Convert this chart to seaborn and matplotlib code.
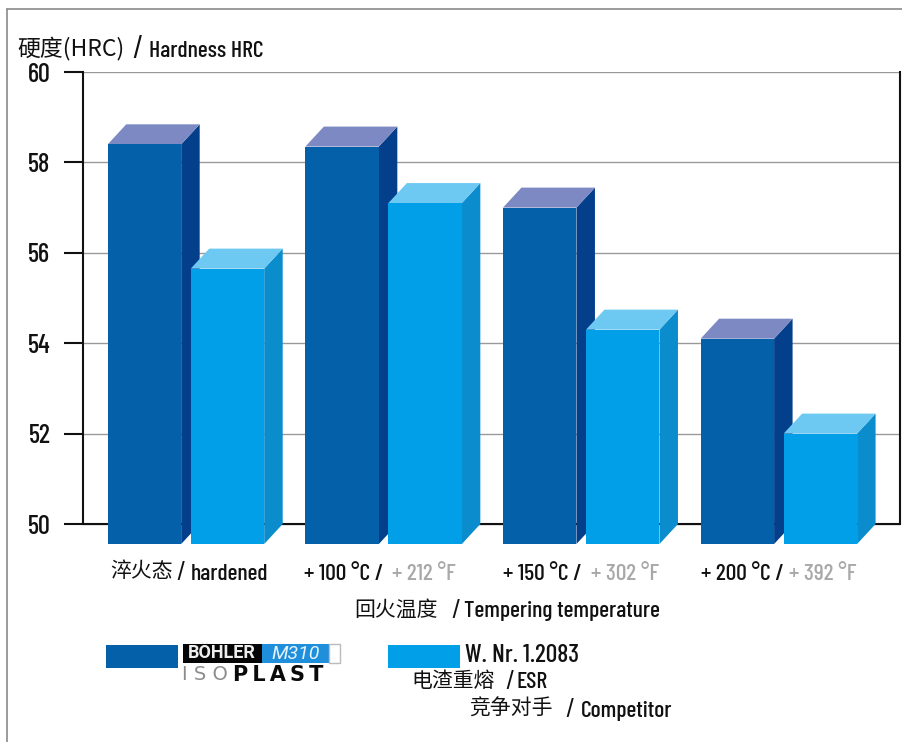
# Hardness of M310 ISOPLAST vs competitor after tempering
import pandas as pd
import matplotlib
matplotlib.use("Agg")
import matplotlib.pyplot as plt
import seaborn as sns
from matplotlib.lines import Line2D
from matplotlib.patches import Polygon, Rectangle

# Data
conditions = ["hardened", "100", "150", "200"]
steels = ["M310", "1.2083"]
m310_hrc = [58.4, 58.35, 57.0, 54.1]
competitor_hrc = [55.65, 57.1, 54.3, 52.0]
y_ticks = [50, 52, 54, 56, 58, 60]
celsius_labels = ["+ 100 °C /", "+ 150 °C /", "+ 200 °C /"]
fahrenheit_labels = ["+ 212 °F", "+ 302 °F", "+ 392 °F"]

df = pd.DataFrame({
    "condition": conditions * 2,
    "steel": [steels[0]] * 4 + [steels[1]] * 4,
    "hrc": m310_hrc + competitor_hrc,
})

# Colours
DARK = "#0461a9"
DARK_SIDE = "#043f8b"
DARK_TOP = "#7c89c2"
LIGHT = "#009fe8"
LIGHT_SIDE = "#0a8ccd"
LIGHT_TOP = "#6dc8f2"
GREY_TXT = "#a8a8a8"

sns.set_style("white")
NARROW = ["Barlow Condensed", "Liberation Sans Narrow", "Noto Sans CJK SC", "DejaVu Sans"]
CJK = ["Noto Sans CJK SC", "DejaVu Sans"]
WIDE = ["Syncopate", "DejaVu Sans"]
plt.rcParams["font.family"] = NARROW
plt.rcParams["font.weight"] = 500

W, H = 903, 742
fig = plt.figure(figsize=(W / 100, H / 100), dpi=100)


def fx(x):
    return x / W


def fy(y):
    return 1 - y / H


def label(x, y, s, size=17, ha="left", color="#111111", **kw):
    fig.text(fx(x), fy(y), s, fontsize=size, ha=ha, va="center", color=color, **kw)


# Axes runs down to the bottom of the front faces, 50 sits 20 px higher
ax = fig.add_axes([fx(83), fy(544), fx(900) - fx(83), fy(72) - fy(544)])

sns.barplot(data=df, x="condition", y="hrc", hue="steel", order=conditions,
            hue_order=steels, palette=[DARK, LIGHT], width=0.84, gap=0.115,
            saturation=1, legend=False, ax=ax, zorder=3, linewidth=0)

ax.set_xlim(-0.521, 3.613)
ax.set_ylim(50 - 20 / 45.2, 60)
ax.set_xlabel("")
ax.set_ylabel("")
ax.set_xticks([])
ax.set_yticks(y_ticks)
ax.set_yticklabels(y_ticks, fontsize=19, color="#111111", fontweight=500)
ax.tick_params(axis="y", left=True, length=13.5, width=1.5, color="#111111", pad=10)
ax.grid(axis="y", color="#9a9a9a", linewidth=1, zorder=1)
ax.set_axisbelow(True)
ax.patch.set_alpha(0)

ax.spines["bottom"].set_visible(False)
for name in ["left", "top", "right"]:
    ax.spines[name].set_bounds(50, 60)
    ax.spines[name].set_linewidth(1.5)
    ax.spines[name].set_color("#111111")
ax.axhline(50, color="#111111", linewidth=1.5, zorder=2)

# 3D side and top faces, built from the bars seaborn drew
dx = 18.5 / 197.6
dy = 20 / 45.2
bars = sorted(ax.patches, key=lambda p: p.get_facecolor()[2])
for bar in bars:
    x0 = bar.get_x()
    x1 = x0 + bar.get_width()
    top = bar.get_height()
    is_dark = bar.get_facecolor()[2] < 0.8
    base = ax.get_ylim()[0]
    ax.add_patch(Polygon([(x1, base), (x1, top), (x1 + dx, top + dy), (x1 + dx, base + dy)],
                         facecolor=DARK_SIDE if is_dark else LIGHT_SIDE,
                         edgecolor="none", zorder=2.5 if is_dark else 2.7))
    ax.add_patch(Polygon([(x0, top), (x1, top), (x1 + dx, top + dy), (x0 + dx, top + dy)],
                         facecolor=DARK_TOP if is_dark else LIGHT_TOP,
                         edgecolor="none", zorder=2.5 if is_dark else 2.7))

# Title of y axis
label(17, 48, "硬度(HRC)", size=16.5, family=CJK, weight=400)
label(132, 50, "/", size=23, weight=400)
label(149, 51, "Hardness HRC")

# Category labels
label(110, 571, "淬火态", size=15, family=CJK, weight=400)
label(176, 573, "/", size=20, weight=400)
label(191, 574, "hardened")
for x, x2, c, f in zip([304, 503, 701], [392, 591, 789], celsius_labels, fahrenheit_labels):
    label(x, 574, c)
    label(x2, 574, f, color=GREY_TXT)

# Axis label
label(354, 610, "回火温度", size=15, family=CJK, weight=400)
label(451, 611, "/", size=20, weight=400)
label(464, 611, "Tempering temperature")

# Legend
fig.add_artist(Rectangle((fx(106), fy(668)), 72 / W, 23 / H, transform=fig.transFigure,
                         facecolor=DARK, edgecolor="none"))
fig.add_artist(Rectangle((fx(388), fy(668)), 72 / W, 23 / H, transform=fig.transFigure,
                         facecolor=LIGHT, edgecolor="none"))

# Logo
fig.add_artist(Rectangle((fx(183), fy(663)), 79 / W, 19 / H, transform=fig.transFigure,
                         facecolor="#050505", edgecolor="none"))
fig.add_artist(Rectangle((fx(262), fy(663)), 67 / W, 19 / H, transform=fig.transFigure,
                         facecolor="#1f8fdc", edgecolor="none"))
fig.add_artist(Rectangle((fx(329), fy(663)), 11 / W, 19 / H, transform=fig.transFigure,
                         facecolor="white", edgecolor="#bbbbbb", linewidth=1))
label(222, 653, "BÖHLER", size=13, ha="center", color="#eeeeee",
      family=["Roboto", "DejaVu Sans"], weight="bold")
label(296, 654, "M310", size=14, ha="center", color="#e8f4fc",
      family=["Roboto", "DejaVu Sans"], style="italic", weight=400)
label(182, 675, "I S O", size=14, color="#8c8c8c", family=WIDE, weight="normal")
label(233, 675, "P\u2009L\u2009A\u2009S\u2009T", size=15, color="#0a0a0a", family=WIDE, weight="bold")

label(465, 656, "W. Nr. 1.2083", size=18.5)
label(411, 681, "电渣重熔", size=15, family=CJK, weight=400)
label(505, 682, "/", size=20, weight=400)
label(517, 682, "ESR")
label(469, 709, "竞争对手", size=15, family=CJK, weight=400)
label(565, 710, "/", size=20, weight=400)
label(581, 711, "Competitor")

# Outer frame of the scan
fig.add_artist(Line2D([fx(7), fx(7)], [0, fy(9)], color="#8a8a8a", linewidth=1.2))
fig.add_artist(Line2D([fx(7), 1], [fy(9), fy(9)], color="#8a8a8a", linewidth=1.2))

fig.savefig("out.png", dpi=100)
